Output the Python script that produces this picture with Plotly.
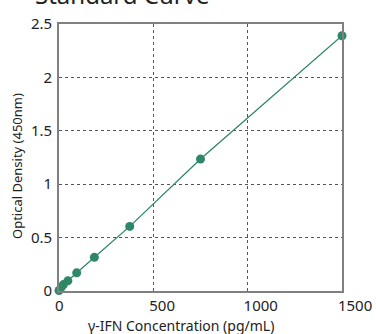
import plotly.graph_objects as go

conc = [0, 11.72, 23.44, 46.88, 93.75, 187.5, 375, 750, 1500]
od = [0.005, 0.035, 0.06, 0.095, 0.17, 0.315, 0.605, 1.235, 2.39]
x_ticks = [0, 500, 1000, 1500]
y_ticks = [0, 0.5, 1, 1.5, 2, 2.5]
y_tick_text = ["0", "0.5", "1", "1.5", "2", "2.5"]

green = "#2e8767"
font = "Noto Sans"

fig = go.Figure()
fig.add_trace(go.Scatter(
    x=conc, y=od, mode="lines+markers",
    line=dict(color=green, width=1.3),
    marker=dict(color=green, size=9),
    cliponaxis=False, showlegend=False,
))

fig.update_layout(
    width=376, height=334,
    margin=dict(l=59, r=34, t=24, b=43),
    paper_bgcolor="white", plot_bgcolor="white",
    font=dict(family=font, color="#222"),
    showlegend=False,
)
fig.update_xaxes(
    range=[0, 1500], tickvals=x_ticks, ticktext=[str(v) for v in x_ticks],
    showgrid=True, gridcolor="#555", griddash="dot", gridwidth=1.3,
    showline=True, linecolor="#808080", linewidth=1.8, mirror=True,
    zeroline=False, ticks="", tickfont=dict(size=15, family=font, color="#222"),
    ticklabelposition="outside right", ticklabelshift=-5, automargin=False,
)
fig.update_yaxes(
    range=[0, 2.5], tickvals=y_ticks, ticktext=y_tick_text,
    showgrid=True, gridcolor="#555", griddash="dot", gridwidth=1.3,
    showline=True, linecolor="#808080", linewidth=1.8, mirror=True,
    zeroline=False, ticks="", tickfont=dict(size=15, family=font, color="#222"),
    ticklabelstandoff=2, automargin=False,
)

fig.add_annotation(text="Standard Curve", xref="paper", yref="paper",
                   x=-0.092, y=(291 - 13) / 267, showarrow=False,
                   xanchor="left", yanchor="bottom",
                   font=dict(size=24, family=font, color="#222"))
fig.add_annotation(text="γ-IFN Concentration (pg/mL)", xref="paper", yref="paper",
                   x=(181 - 59) / 283, y=0, yshift=-34, showarrow=False,
                   xanchor="center", yanchor="middle",
                   font=dict(size=14, family=font, color="#222"))
fig.add_annotation(text="Optical Density (450nm)", xref="paper", yref="paper",
                   x=0, xshift=-42, y=(291 - 166) / 267, showarrow=False, textangle=-90,
                   xanchor="center", yanchor="middle",
                   font=dict(size=13, family=font, color="#222"))

fig.write_html("out.html", config={"displayModeBar": False},
               post_script="document.body.style.margin='0';document.body.style.overflow='hidden';")
